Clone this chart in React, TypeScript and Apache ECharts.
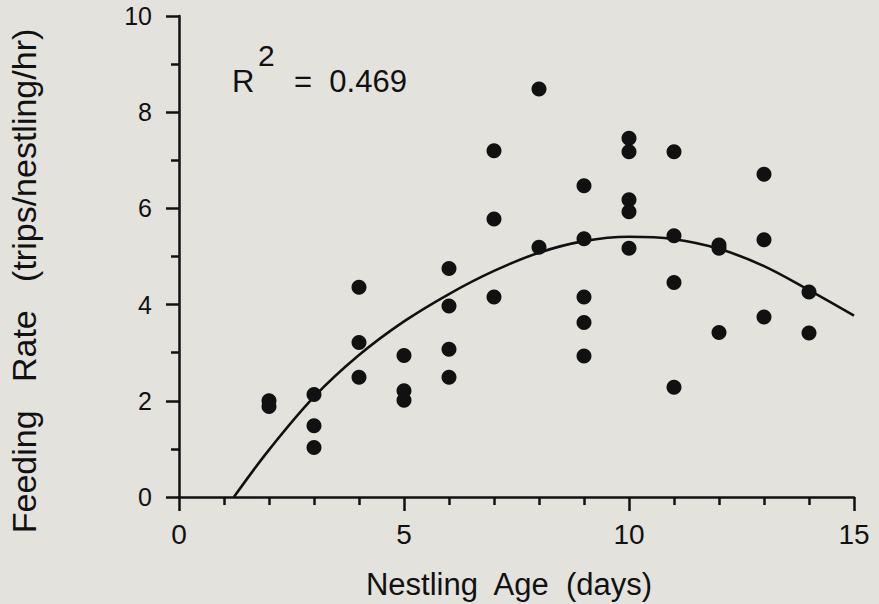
import { useEffect, useRef } from "react";
import * as echarts from "echarts";

// Observed feeding rates (trips/nestling/hr) by nestling age (days)
const pointAges = [
  2, 2,
  3, 3, 3,
  4, 4, 4,
  5, 5, 5,
  6, 6, 6, 6,
  7, 7, 7,
  8, 8,
  9, 9, 9, 9, 9,
  10, 10, 10, 10, 10,
  11, 11, 11, 11,
  12, 12, 12,
  13, 13, 13,
  14, 14,
];
const pointRates = [
  2.0, 1.88,
  2.13, 1.48, 1.03,
  4.36, 3.21, 2.49,
  2.94, 2.21, 2.01,
  4.75, 3.97, 3.07, 2.49,
  7.2, 5.78, 4.16,
  8.48, 5.19,
  6.47, 5.37, 4.16, 3.63, 2.93,
  7.46, 7.18, 6.18, 5.93, 5.17,
  7.18, 5.43, 4.46, 2.28,
  5.24, 5.17, 3.42,
  6.71, 5.35, 3.74,
  4.26, 3.41,
];

// Fitted curve
const curveAges = [1.22, 2, 3, 4, 5, 6, 7, 8, 9, 10, 11, 12, 13, 14, 15];
const curveRates = [0, 0.98, 2.08, 2.95, 3.65, 4.22, 4.7, 5.08, 5.32, 5.41, 5.36, 5.16, 4.8, 4.3, 3.77];

const xTickValues = [0, 5, 10, 15];
const yTickValues = [0, 2, 4, 6, 8, 10];

const xTitle = "Nestling  Age  (days)";
const yTitle = "Feeding   Rate   (trips/nestling/hr)";
const r2Label = "R";
const r2Sup = "2";
const r2Value = "=  0.469";

const FONT = "'Liberation Sans', Arial, Helvetica, sans-serif";
const INK = "#111111";
const BG = "#e4e2dd";

export default function App() {
  const ref = useRef<HTMLDivElement>(null);

  useEffect(() => {
    if (!ref.current) return;
    const chart = echarts.init(ref.current, undefined, { renderer: "svg" });

    const scatterData = pointAges.map((a, i) => [a, pointRates[i]]);
    const curveData = curveAges.map((a, i) => [a, curveRates[i]]);

    const xMin = xTickValues[0];
    const xMax = xTickValues[xTickValues.length - 1];
    const yMin = yTickValues[0];
    const yMax = yTickValues[yTickValues.length - 1];

    chart.setOption({
      animation: false,
      backgroundColor: BG,
      textStyle: { fontFamily: FONT, color: INK },
      grid: { left: 179, right: 25, top: 16, bottom: 107, containLabel: false },
      xAxis: {
        type: "value",
        min: xMin,
        max: xMax,
        interval: xTickValues[1] - xTickValues[0],
        axisLine: { show: true, lineStyle: { color: INK, width: 2.5 } },
        axisTick: { show: true, length: 14, lineStyle: { color: INK, width: 2.5 } },
        minorTick: { show: true, splitNumber: 5, length: 8, lineStyle: { color: INK, width: 2.5 } },
        splitLine: { show: false },
        minorSplitLine: { show: false },
        axisLabel: { fontSize: 28, margin: 23, color: INK, fontFamily: FONT },
      },
      yAxis: {
        type: "value",
        min: yMin,
        max: yMax,
        interval: yTickValues[1] - yTickValues[0],
        axisLine: { show: true, lineStyle: { color: INK, width: 2.5 } },
        axisTick: { show: true, length: 13, lineStyle: { color: INK, width: 2.5 } },
        minorTick: { show: true, splitNumber: 2, length: 8, lineStyle: { color: INK, width: 2.5 } },
        splitLine: { show: false },
        minorSplitLine: { show: false },
        axisLabel: { fontSize: 25, margin: 27, color: INK, fontFamily: FONT },
      },
      series: [
        {
          type: "line",
          data: curveData,
          smooth: 0.35,
          showSymbol: false,
          lineStyle: { color: INK, width: 2.6 },
          z: 2,
        },
        {
          type: "scatter",
          data: scatterData,
          symbol: "circle",
          symbolSize: 15,
          itemStyle: { color: INK, opacity: 1 },
          z: 3,
        },
      ],
      graphic: [
        {
          type: "text",
          x: 509,
          y: 569,
          style: { text: xTitle, fontSize: 31, fontFamily: FONT, fill: INK, align: "center", verticalAlign: "top" },
        },
        {
          type: "text",
          x: 24,
          y: 281,
          rotation: Math.PI / 2,
          style: { text: yTitle, fontSize: 34, fontFamily: FONT, fill: INK, align: "center", verticalAlign: "middle" },
        },
        {
          type: "text",
          x: 232,
          y: 66,
          style: { text: r2Label, fontSize: 31, fontFamily: FONT, fill: INK, verticalAlign: "top" },
        },
        {
          type: "text",
          x: 258,
          y: 40,
          style: { text: r2Sup, fontSize: 30, fontFamily: FONT, fill: INK, verticalAlign: "top" },
        },
        {
          type: "text",
          x: 294,
          y: 66,
          style: { text: r2Value, fontSize: 31, fontFamily: FONT, fill: INK, verticalAlign: "top" },
        },
      ],
    });

    return () => chart.dispose();
  }, []);

  return (
    <div
      ref={ref}
      style={{ position: "fixed", left: 0, top: 0, width: 879, height: 604, background: BG }}
    />
  );
}
